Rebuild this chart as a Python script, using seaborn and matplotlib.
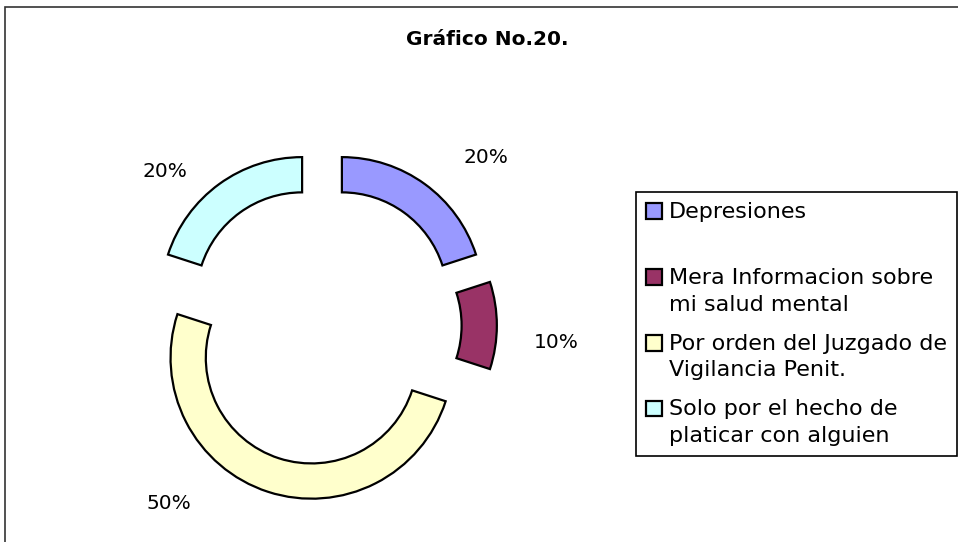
import matplotlib
matplotlib.use("Agg")
import matplotlib.pyplot as plt
from matplotlib.patches import Rectangle
from matplotlib.legend_handler import HandlerPatch
import seaborn as sns

# ---- data ----
categories = ["Depresiones",
              "Mera Informacion sobre\nmi salud mental",
              "Por orden del Juzgado de\nVigilancia Penit.",
              "Solo por el hecho de\nplaticar con alguien"]
values = [20, 10, 50, 20]
colors = ["#9999FF", "#993366", "#FFFFCC", "#CCFFFF"]
title = "Gráfico No.20."

# label anchor points (data units, pie radius = 1)
label_pos = [(1.160, 1.152), (1.660, -0.160), (-1.085, -1.301), (-1.117, 1.053)]

sns.set_theme(style="white")
plt.rcParams['font.family'] = ['DejaVu Sans']
plt.rcParams['text.color'] = 'black'

W, H = 958, 542
cx, cy, R = 322, 325.5, 141  # pie centre / radius in pixels

fig = plt.figure(figsize=(W / 100, H / 100), dpi=100)
fig.patch.set_facecolor("white")
ax = fig.add_axes([0, 0, 1, 1])

palette = sns.color_palette(colors)
wedges, _ = ax.pie(values, colors=palette, startangle=90, counterclock=False,
                   explode=[0.24] * len(values), radius=1,
                   wedgeprops=dict(width=0.25, edgecolor="black", linewidth=1.6))

ax.set_aspect("auto")
ax.set_xlim(-cx / R, (W - cx) / R)
ax.set_ylim(-(H - cy) / R, cy / R)
ax.axis("off")

total = sum(values)
for v, (x, y) in zip(values, label_pos):
    ax.text(x, y, f"{v / total:.0%}", ha="center", va="baseline",
            fontsize=14.5, color="black")

fig.text(487 / W, 1 - 45 / H, title, ha="center", va="baseline",
         fontsize=14.5, fontweight="bold", color="black")

# outer chart border (bottom/right run off the image)
fig.add_artist(Rectangle((4.5 / W, -0.05), 1.2, 1 - 6.5 / H + 0.05,
                         transform=fig.transFigure, fill=False,
                         edgecolor="#333333", linewidth=1.2))

# legend: every entry two lines tall, swatch aligned with first line
line_step_pt = 29 * 0.72


def top_box(legend, orig_handle, xdescent, ydescent, width, height, fontsize):
    return Rectangle((-xdescent, -ydescent + 0.5 * line_step_pt), width, height)


leg_labels = [c if "\n" in c else c + "\n" for c in categories]
leg = ax.legend(wedges, leg_labels, loc="upper left",
                bbox_to_anchor=(636 / W, 1 - 192 / H), bbox_transform=fig.transFigure,
                borderaxespad=0, fontsize=16, frameon=True, fancybox=False,
                framealpha=1, handlelength=0.7, handleheight=0.7,
                handletextpad=0.32, borderpad=0.45, labelspacing=0.86,
                handler_map={w: HandlerPatch(patch_func=top_box) for w in wedges})
leg.get_frame().set_edgecolor("black")
leg.get_frame().set_linewidth(1.2)
for t in leg.get_texts():
    t.set_linespacing(1.42)
    t.set_color("black")

fig.savefig("out.png", dpi=100)
